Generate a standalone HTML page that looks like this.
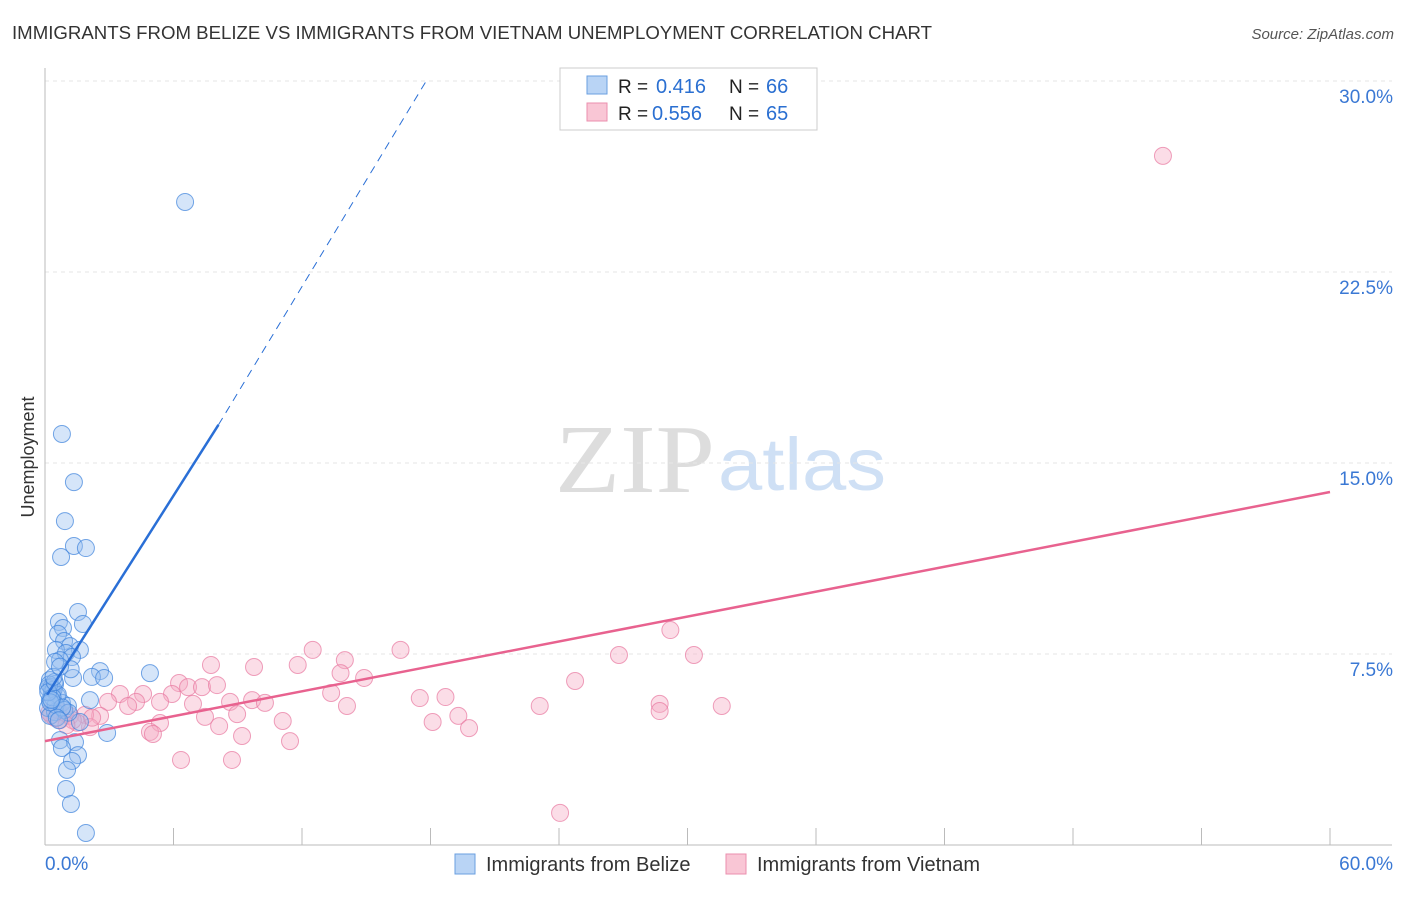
<!DOCTYPE html>
<html><head><meta charset="utf-8"><style>
body{margin:0;background:#fff;font-family:"Liberation Sans",sans-serif;}
</style></head><body>
<svg width="1406" height="892" xmlns="http://www.w3.org/2000/svg">
<text x="12" y="39" font-size="18" fill="#333" textLength="920" lengthAdjust="spacingAndGlyphs">IMMIGRANTS FROM BELIZE VS IMMIGRANTS FROM VIETNAM UNEMPLOYMENT CORRELATION CHART</text>
<text x="1394" y="39" font-size="15" fill="#555" font-style="italic" text-anchor="end">Source: ZipAtlas.com</text>
<text x="555" y="492" font-size="98" fill="#ddd" textLength="160" lengthAdjust="spacingAndGlyphs" font-family="Liberation Serif">ZIP</text>
<text x="718" y="490" font-size="74" fill="#cfe0f5" textLength="168" lengthAdjust="spacingAndGlyphs">atlas</text>
<g id="grid"></g>
<g id="axes"></g>
<text transform="translate(34,457) rotate(-90)" font-size="18" fill="#333" text-anchor="middle">Unemployment</text>
<g id="pts"></g>
<g id="lines"></g>
<g>
<rect x="560" y="68" width="257" height="62" fill="#fff" stroke="#ccc"/>
<rect x="587" y="76" width="20" height="18" fill="#b9d4f5" stroke="#6a9fe0"/>
<rect x="587" y="103" width="20" height="18" fill="#f9c6d5" stroke="#eb8fae"/>
<text x="618" y="93" font-size="19" fill="#222">R =</text><text x="656" y="93" font-size="20" fill="#2a6fd1">0.416</text>
<text x="729" y="93" font-size="19" fill="#222">N =</text><text x="766" y="93" font-size="20" fill="#2a6fd1">66</text>
<text x="618" y="120" font-size="19" fill="#222">R =</text><text x="652" y="120" font-size="20" fill="#2a6fd1">0.556</text>
<text x="729" y="120" font-size="19" fill="#222">N =</text><text x="766" y="120" font-size="20" fill="#2a6fd1">65</text>
</g>
<g>
<rect x="455" y="854" width="20" height="20" fill="#b9d4f5" stroke="#6a9fe0"/>
<text x="486" y="871" font-size="20" fill="#333">Immigrants from Belize</text>
<rect x="726" y="854" width="20" height="20" fill="#f9c6d5" stroke="#eb8fae"/>
<text x="757" y="871" font-size="20" fill="#333">Immigrants from Vietnam</text>
</g>
</svg>
<script>
const yTicks=[7.5,15,22.5,30];
const yTickLabels=["7.5%","15.0%","22.5%","30.0%"];
const xTickVals=[0,6,12,18,24,30,36,42,48,54,60];
const belizeX=[6.54,0.79,1.35,0.93,1.35,1.91,0.75,1.54,0.65,1.77,0.84,0.61,0.89,1.17,0.51,1.63,0.98,1.26,0.70,0.47,4.90,2.57,2.19,2.76,1.31,0.23,0.47,0.14,0.33,0.56,2.10,0.23,0.79,1.07,0.14,0.47,0.23,1.63,2.90,0.70,1.40,0.79,1.54,1.26,1.03,0.98,1.21,1.91,0.3,0.4,0.6,0.2,0.5,0.9,0.35,0.15,1.1,0.8,0.45,0.25,0.55,0.65,0.3,1.2,0.4,0.7];
const belizeY=[25.25,16.14,14.25,12.72,11.74,11.66,11.31,9.15,8.76,8.68,8.52,8.29,8.01,7.81,7.66,7.66,7.54,7.38,7.26,7.19,6.75,6.83,6.60,6.56,6.56,6.48,6.32,6.17,6.01,5.85,5.69,5.69,5.58,5.46,5.38,5.22,5.07,4.83,4.40,4.12,4.04,3.81,3.53,3.30,2.95,2.20,1.61,0.47,6.2,6.1,5.9,6.3,5.5,5.3,5.8,6.0,5.2,5.4,6.4,5.6,5.0,4.9,5.7,6.9,6.6,7.0];
const vietX=[52.2,29.2,26.8,30.3,16.6,12.5,14.0,7.75,11.8,9.76,14.9,13.8,6.26,6.68,7.33,8.03,24.75,13.36,5.93,4.58,3.50,18.7,17.5,8.64,9.67,10.27,6.91,5.37,4.25,3.88,2.94,28.7,31.6,23.1,14.1,28.7,8.97,7.47,19.3,2.57,1.87,18.1,11.1,5.37,8.13,19.8,2.10,4.90,5.04,9.20,11.44,6.35,8.73,24.05,0.70,1.17,0.47,0.93,0.3,1.5,0.6,1.3,0.2,2.2,1.0];
const vietY=[27.06,8.44,7.46,7.46,7.66,7.66,7.26,7.07,7.07,6.99,6.56,6.75,6.36,6.20,6.20,6.28,6.44,5.97,5.93,5.93,5.93,5.81,5.77,5.62,5.69,5.58,5.54,5.62,5.62,5.46,5.62,5.54,5.46,5.46,5.46,5.26,5.14,5.03,5.07,5.07,5.11,4.83,4.87,4.79,4.67,4.59,4.63,4.44,4.36,4.28,4.08,3.34,3.34,1.26,4.91,5.07,4.99,5.19,5.1,4.8,5.3,4.9,5.2,5.0,4.7];
const belizeTrend=[[0.1,5.9],[8.1,16.5],[17.8,30]];
const vietTrend=[[0,4.08],[60,13.86]];
const X=v=>45+v/60*1285, Y=v=>845-v/30*764;
const NS="http://www.w3.org/2000/svg";
function mk(p,t,a){const e=document.createElementNS(NS,t);for(const k in a)e.setAttribute(k,a[k]);document.getElementById(p).appendChild(e);return e;}
yTicks.forEach((v,i)=>{
 const l=mk('grid','line',{x1:45,x2:1392,y1:Y(v),y2:Y(v),stroke:'#e6e6e6','stroke-dasharray':'4,4'});
 
 
 const t=mk('grid','text',{x:1393,y:Y(v)+22,'font-size':19,fill:'#3a78d4','text-anchor':'end'});
 t.textContent=yTickLabels[i];
 
 
});
const ax=mk('axes','line',{x1:45,x2:45,y1:68,y2:845,stroke:'#bbb'});


const bx=mk('axes','line',{x1:45,x2:1392,y1:845,y2:845,stroke:'#bbb'});


xTickVals.forEach(v=>{const t=mk('axes','line',{x1:X(v),x2:X(v),y1:828,y2:845,stroke:'#bbb'});
 
 });
const x0=mk('axes','text',{x:45,y:870,'font-size':19,fill:'#3a78d4'});x0.textContent='0.0%';


const x1=mk('axes','text',{x:1393,y:870,'font-size':19,fill:'#3a78d4','text-anchor':'end'});x1.textContent='60.0%';


vietX.forEach((v,i)=>{const c=mk('pts','circle',{cx:X(v),cy:Y(vietY[i]),r:8.5,fill:'rgba(246,170,195,0.4)',stroke:'rgba(232,120,160,0.7)'});
 
 });
belizeX.forEach((v,i)=>{const c=mk('pts','circle',{cx:X(v),cy:Y(belizeY[i]),r:8.5,fill:'rgba(150,190,240,0.4)',stroke:'rgba(60,130,220,0.7)'});
 
 });
const b1=mk('lines','line',{x1:X(belizeTrend[0][0]),y1:Y(belizeTrend[0][1]),x2:X(belizeTrend[1][0]),y2:Y(belizeTrend[1][1]),stroke:'#2a6fd6','stroke-width':2.5});


const b2=mk('lines','line',{x1:X(belizeTrend[1][0]),y1:Y(belizeTrend[1][1]),x2:X(belizeTrend[2][0]),y2:Y(belizeTrend[2][1]),stroke:'#2a6fd6','stroke-width':1,'stroke-dasharray':'8,6'});


const p1=mk('lines','line',{x1:X(vietTrend[0][0]),y1:Y(vietTrend[0][1]),x2:X(vietTrend[1][0]),y2:Y(vietTrend[1][1]),stroke:'#e8628f','stroke-width':2.5});


</script>
</body></html>
